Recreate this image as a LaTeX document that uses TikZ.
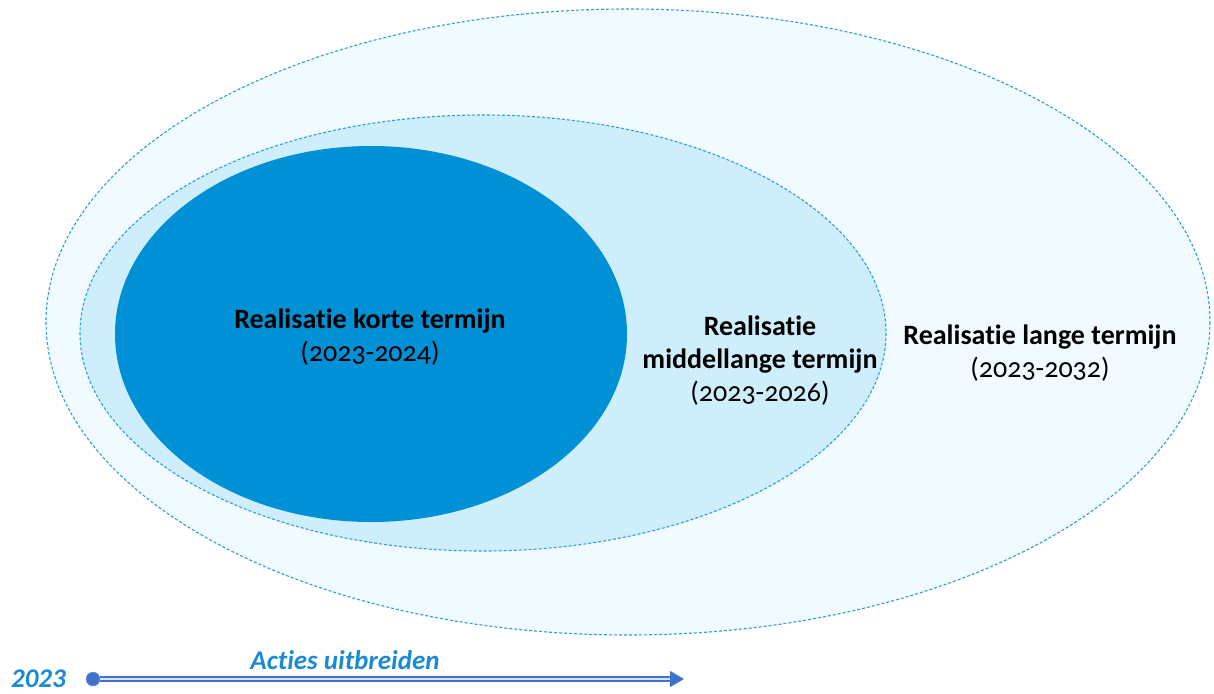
\documentclass[tikz,border=0pt]{standalone}
\usepackage{fontspec}
\setmainfont{Carlito}[Numbers=OldStyle,Ligatures=NoCommon]
\newfontfamily\lin{Carlito}[Ligatures=NoCommon]
\usetikzlibrary{arrows.meta}
\definecolor{dark}{HTML}{0090D5}
\definecolor{mid}{HTML}{CFEEFC}
\definecolor{outerfill}{HTML}{F1FAFE}
\definecolor{edge}{HTML}{2A9FDC}
\definecolor{arrowblue}{HTML}{3F72CC}
\definecolor{labelblue}{HTML}{1A8AD4}
\tikzset{
  ring/.style={draw=edge, densely dashed, line width=1.1pt},
  lbl/.style={align=center, font=\fontsize{28}{33}\selectfont, text=black},
  blbl/.style={font=\lin\fontsize{27}{30}\selectfont\bfseries\itshape, text=labelblue}
}
\begin{document}
\begin{tikzpicture}[x=1pt,y=-1pt]
\useasboundingbox (0,0) rectangle (1214,693);
\fill[outerfill, ring] (628,322) ellipse [x radius=582, y radius=313];
\fill[mid, ring] (483,333) ellipse [x radius=403, y radius=218];
\fill[dark] (371,334) ellipse [x radius=256, y radius=188];
\node[lbl] (short) at (370,337) {\textbf{Realisatie korte termijn}\\(2023-2024)};
\node[lbl] (medium) at (760,361) {\textbf{Realisatie}\\\textbf{middellange termijn}\\(2023-2026)};
\node[lbl] (long) at (1040,353) {\textbf{Realisatie lange termijn}\\(2023-2032)};
\node[blbl, anchor=east, inner sep=0pt] (year) at (66,679) {2023};
\node[blbl] (acties) at (345,660) {Acties uitbreiden};
\node[circle, fill=arrowblue, draw=arrowblue!70!white, inner sep=0pt, minimum size=14pt] (dot) at (93,679) {};
\coordinate (tip) at (684,679);
\draw[arrowblue, double=arrowblue!20!white, double distance=2.5pt, line width=1.4pt, -{Triangle[length=14pt,width=16pt]}] (dot.east) -- (tip);
\end{tikzpicture}
\end{document}
